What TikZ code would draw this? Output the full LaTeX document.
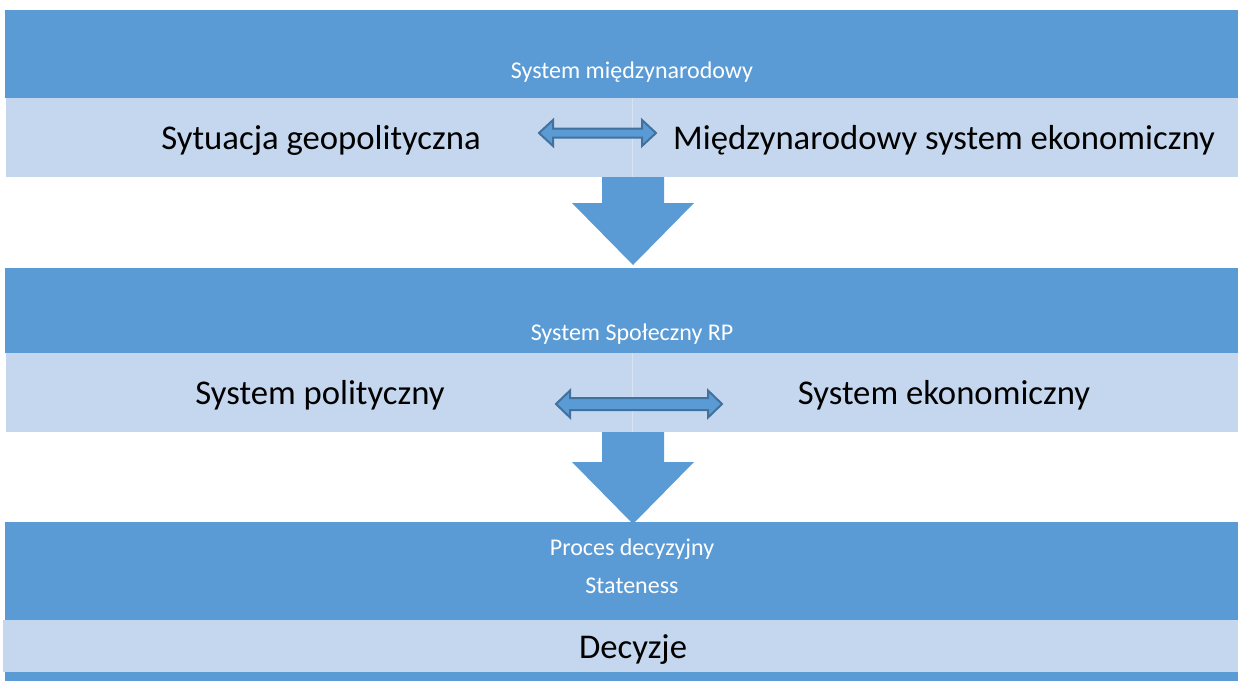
\documentclass[tikz,border=0pt]{standalone}
\usepackage{fontspec}
\setmainfont{Carlito}
\definecolor{dk}{HTML}{5B9BD5}
\definecolor{lt}{HTML}{C5D7EE}
\definecolor{ed}{HTML}{41719C}
\definecolor{dv}{HTML}{D6E3F3}
\begin{document}
\begin{tikzpicture}[x=1pt,y=-1pt,
  band/.style={rectangle, inner sep=0pt, anchor=north west, draw=none},
  darkband/.style={band, fill=dk},
  lightband/.style={band, fill=lt},
  smalltxt/.style={text=white, font=\fontsize{24}{28}\selectfont, inner sep=0pt},
  bigtxt/.style={text=black, font=\fontsize{34.7}{40}\selectfont, inner sep=0pt},
  dblarrow/.style={fill=dk, draw=ed, line width=2pt, line join=miter},
  downarrow/.style={fill=dk, draw=none}]
\useasboundingbox (0,0) rectangle (1238,681);
% band 1
\node[darkband, minimum width=1233pt, minimum height=88pt] (d1) at (5,10) {};
\node[lightband, minimum width=1232pt, minimum height=79pt] (l1) at (6,98) {};
\draw[dv, line width=1pt] (632,98) -- (632,177);
\node[smalltxt] (t1) at (632,72) {System międzynarodowy};
\node[bigtxt] (a1) at (321,140) {Sytuacja geopolityczna};
\node[bigtxt] (b1) at (944,140) {Międzynarodowy system ekonomiczny};
\draw[dblarrow] (539,133) -- (553,120) -- (553,128.5) -- (642,128.5) -- (642,120) -- (656,133)
  -- (642,146) -- (642,137.5) -- (553,137.5) -- (553,146) -- cycle;
% arrow down 1
\fill[dk] (602,177) -- (664,177) -- (664,203) -- (694,203) -- (633,265) -- (572,203) -- (602,203) -- cycle;
% band 2
\node[darkband, minimum width=1233pt, minimum height=85pt] (d2) at (5,268) {};
\node[lightband, minimum width=1232pt, minimum height=79pt] (l2) at (6,353) {};
\draw[dv, line width=1pt] (632,353) -- (632,432);
\node[smalltxt] (t2) at (632,334) {System Społeczny RP};
\node[bigtxt] (a2) at (320,395) {System polityczny};
\node[bigtxt] (b2) at (944,395) {System ekonomiczny};
\draw[dblarrow] (556,404) -- (570,390.5) -- (570,398) -- (708,398) -- (708,390.5) -- (722,404)
  -- (708,417.5) -- (708,410) -- (570,410) -- (570,417.5) -- cycle;
% arrow down 2
\fill[dk] (602,432) -- (664,432) -- (664,462) -- (694,462) -- (633,524) -- (572,462) -- (602,462) -- cycle;
% band 3
\node[darkband, minimum width=1233pt, minimum height=98pt] (d3) at (5,522) {};
\node[lightband, minimum width=1235pt, minimum height=52pt] (l3) at (3,620) {};
\node[darkband, minimum width=1233pt, minimum height=9pt] (d4) at (5,672) {};
\node[smalltxt] (t3) at (632,549) {Proces decyzyjny};
\node[smalltxt] (t4) at (632,586) {Stateness};
\node[bigtxt] (c3) at (633,650) {Decyzje};
\end{tikzpicture}
\end{document}
